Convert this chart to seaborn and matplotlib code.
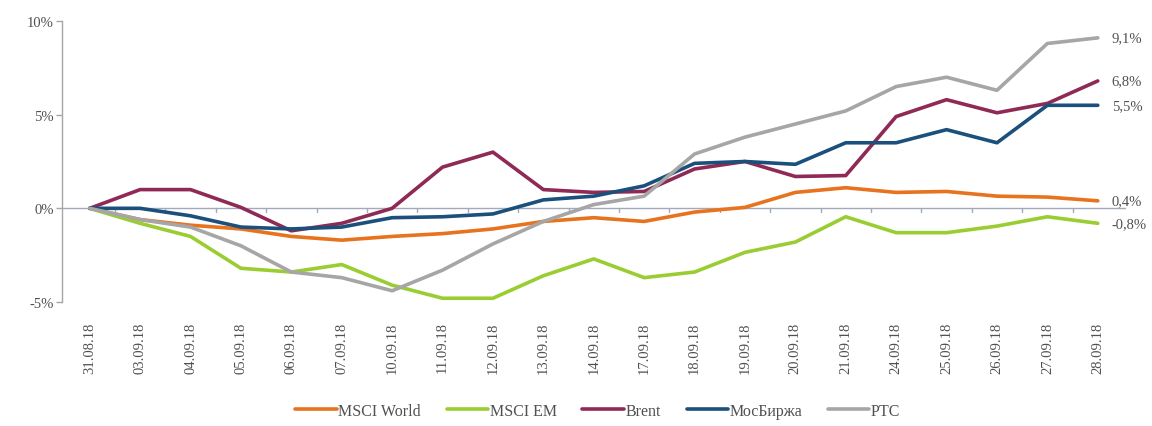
import numpy as np
import pandas as pd
import seaborn as sns
import matplotlib
matplotlib.use("Agg")
import matplotlib.pyplot as plt

# Trading dates
dates = ["31.08.18", "03.09.18", "04.09.18", "05.09.18", "06.09.18", "07.09.18",
         "10.09.18", "11.09.18", "12.09.18", "13.09.18", "14.09.18", "17.09.18",
         "18.09.18", "19.09.18", "20.09.18", "21.09.18", "24.09.18", "25.09.18",
         "26.09.18", "27.09.18", "28.09.18"]

# Cumulative change since 31.08.18, %
msci_world = [0.0, -0.6, -0.9, -1.1, -1.5, -1.7, -1.5, -1.35, -1.1, -0.7, -0.5,
              -0.7, -0.2, 0.05, 0.85, 1.1, 0.85, 0.9, 0.65, 0.6, 0.4]
msci_em = [0.0, -0.8, -1.5, -3.2, -3.4, -3.0, -4.1, -4.8, -4.8, -3.6, -2.7,
           -3.7, -3.4, -2.35, -1.8, -0.45, -1.3, -1.3, -0.95, -0.45, -0.8]
brent = [0.0, 1.0, 1.0, 0.05, -1.2, -0.8, 0.0, 2.2, 3.0, 1.0, 0.85,
         0.9, 2.1, 2.5, 1.7, 1.75, 4.9, 5.8, 5.1, 5.6, 6.8]
moex = [0.0, 0.0, -0.4, -1.0, -1.1, -1.0, -0.5, -0.45, -0.3, 0.45, 0.65,
        1.2, 2.4, 2.5, 2.35, 3.5, 3.5, 4.2, 3.5, 5.5, 5.5]
rts = [0.0, -0.6, -1.0, -2.0, -3.4, -3.7, -4.4, -3.3, -1.9, -0.7, 0.2,
       0.65, 2.9, 3.8, 4.5, 5.2, 6.5, 7.0, 6.3, 8.8, 9.1]

series_names = ["MSCI World", "MSCI EM", "Brent", "МосБиржа", "РТС"]
series_values = [msci_world, msci_em, brent, moex, rts]
colors = ["#E8731E", "#9ACD32", "#8E2A55", "#1B4F7C", "#A6A6A6"]

y_ticks = [-5, 0, 5, 10]
y_tick_labels = ["-5%", "0%", "5%", "10%"]

frames = []
for name, vals in zip(series_names, series_values):
    frames.append(pd.DataFrame({"idx": np.arange(len(dates)), "value": vals, "series": name}))
df = pd.concat(frames, ignore_index=True)

sns.set_style("white")
plt.rcParams["font.family"] = ["Liberation Serif", "DejaVu Serif"]

text_color = "#505050"

fig = plt.figure(figsize=(11.52, 4.27), dpi=100)
ax = fig.add_axes([0.0538, 0.2904, 0.9232, 0.6581])

# Zero reference line drawn first so the series sit on top
ax.axhline(0, color="#A3A9BC", lw=1.0, zorder=1)

sns.lineplot(data=df, x="idx", y="value", hue="series", hue_order=series_names,
             palette=colors, lw=2.6, ax=ax, legend=True, zorder=3)

ax.set_xlim(-0.55, len(dates) - 0.45)
ax.set_ylim(-5, 10)
ax.set_xlabel("")
ax.set_ylabel("")

# Y axis: gray spine with outward ticks
for side in ["top", "right", "bottom"]:
    ax.spines[side].set_visible(False)
ax.spines["left"].set_color("#A6A6A6")
ax.spines["left"].set_linewidth(1.0)
ax.set_yticks(y_ticks, labels=y_tick_labels)
ax.tick_params(axis="y", length=4, width=1, color="#A6A6A6", labelsize=10.5,
               labelcolor=text_color, pad=2, left=True)

# Category boundary ticks along the zero line
ax.set_xticks([])
for xb in np.arange(len(dates) - 1) + 0.5:
    ax.plot([xb, xb], [0, -0.18], color="#A3A9BC", lw=1.0, zorder=1)

# Date labels along the bottom
sec = ax.secondary_xaxis(0.0)
sec.set_xticks(np.arange(len(dates)), labels=dates)
sec.spines["bottom"].set_visible(False)
sec.tick_params(axis="x", length=0, pad=14, labelsize=10.5, labelcolor=text_color,
                labelrotation=90)

# End-of-period value labels
for name, vals, c in zip(series_names, series_values, colors):
    ax.annotate(f"{vals[-1]:.1f}%".replace(".", ","), xy=(len(dates) - 1, vals[-1]),
                xytext=(10, 0), textcoords="offset points", va="center", ha="left",
                fontsize=10.5, color=text_color, annotation_clip=False)

# Legend below the chart
handles, labels = ax.get_legend_handles_labels()
ax.legend_.remove()
fig.legend(handles, labels, loc="center", bbox_to_anchor=(0.519, 0.035), ncol=5,
           frameon=False, fontsize=11.5, handlelength=2.6, handletextpad=0.1,
           columnspacing=1.6, labelcolor=text_color)

fig.savefig("out.png", dpi=100)
